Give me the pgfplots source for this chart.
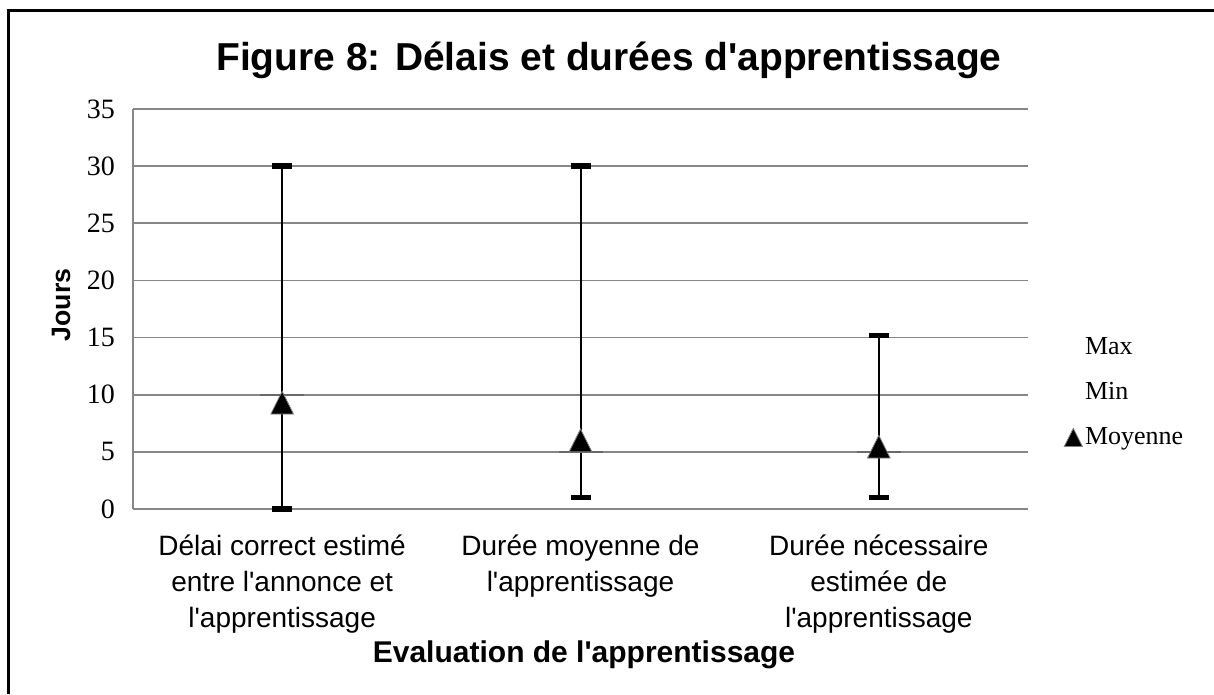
\documentclass[border=0pt]{standalone}
\usepackage{pgfplots}
\pgfplotsset{compat=1.18}
\usepackage{fontspec}
\setmainfont{Liberation Serif}
\newfontfamily\arial{Liberation Sans}
\definecolor{gridc}{RGB}{135,135,135}
\definecolor{segc}{RGB}{105,105,105}
\pgfdeclareplotmark{xtri}{%
  \pgfpathmoveto{\pgfqpoint{0pt}{\pgfplotmarksize}}%
  \pgfpathlineto{\pgfqpoint{-\pgfplotmarksize}{-\pgfplotmarksize}}%
  \pgfpathlineto{\pgfqpoint{\pgfplotmarksize}{-\pgfplotmarksize}}%
  \pgfpathclose
  \pgfusepathqfillstroke}
\begin{document}
\begin{tikzpicture}
\useasboundingbox (0,0) rectangle (910.5pt,520.5pt);
\fill[white] (0,0) rectangle (910.5pt,520.5pt);
\draw[line width=2.2pt] (6.5pt,0pt) -- (6.5pt,512.6pt) -- (910.5pt,512.6pt);
\begin{axis}[
  at={(99.75pt,138.75pt)}, anchor=south west,
  scale only axis, width=671.25pt, height=300pt,
  xmin=-0.5, xmax=2.5, ymin=0, ymax=35,
  axis lines*=left, axis line style={gridc, line width=1.2pt, -},
  ymajorgrids, grid style={gridc, line width=1.2pt},
  ytick={0,5,...,35}, xtick={0,1,2},
  xticklabels={{Délai correct estimé\\entre l'annonce et\\l'apprentissage},{Durée moyenne de\\l'apprentissage},{Durée nécessaire\\estimée de\\l'apprentissage}},
  major tick length=0pt,
  /pgf/number format/assume math mode=true,
  yticklabel style={font=\fontsize{21}{25}\selectfont, xshift=-10pt},
  xticklabel style={font=\arial\fontsize{21}{27}\selectfont, align=center, yshift=-16pt},
  clip=false,
  legend cell align=left,
  legend style={at={(1.0402,0.2925)}, anchor=west, draw=none, fill=none,
    font=\fontsize{19.5}{23}\selectfont, row sep=15.75pt, inner sep=0pt},
]
\addplot[forget plot, only marks, mark=-, mark size=16.5pt,
  mark options={draw=segc, line width=1.7pt}] coordinates {(0,10) (1,5) (2,5)};
\addplot[only marks, mark=-, mark size=7.5pt, mark options={draw=black, line width=4.1pt},
  legend image code/.code={}] coordinates {(0,30) (1,30) (2,15.2)};
\addlegendentry{Max}
\addplot[only marks, mark=-, mark size=7.5pt, mark options={draw=black, line width=4.1pt},
  legend image code/.code={},
  error bars/.cd, y dir=plus, y explicit, error mark=none,
  error bar style={black, line width=1.5pt}]
  table[x=x, y=y, y error=ey] {
x y ey
0 0 30
1 1 29
2 1 14.2
};
\addlegendentry{Min}
\addplot[only marks, mark=xtri, mark size=8.5pt,
  mark options={draw=gray, fill=black, line width=0.6pt},
  legend image code/.code={\begin{scope}[draw=gray, fill=black, line width=0.6pt]\pgfsetplotmarksize{6.8pt}\pgfuseplotmark{xtri}\end{scope}}]
  coordinates {(0,9.3) (1,6.0) (2,5.45)};
\addlegendentry{Moyenne}
\end{axis}
\node[anchor=base, font=\arial\bfseries\fontsize{29.2}{35}\selectfont] at (456.75pt,467.25pt) {Figure 8: Délais et durées d'apprentissage};
\node[anchor=base, font=\arial\bfseries\fontsize{22.5}{27}\selectfont] at (438pt,24pt) {Evaluation de l'apprentissage};
\node[anchor=base, rotate=90, font=\arial\bfseries\fontsize{20}{24}\selectfont] at (52.5pt,291.75pt) {Jours};
\end{tikzpicture}
\end{document}
